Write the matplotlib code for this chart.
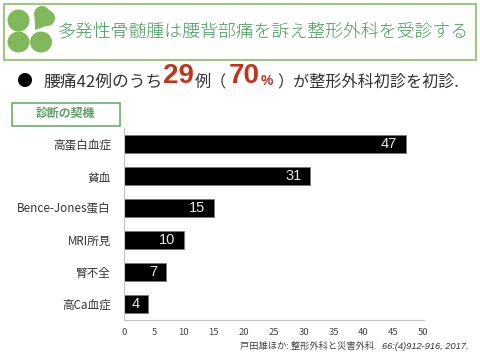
import matplotlib
matplotlib.use('Agg')
import matplotlib.pyplot as plt
from matplotlib.patches import Rectangle, Circle, Polygon, Ellipse

plt.rcParams['font.family'] = ['Noto Sans CJK JP', 'DejaVu Sans']

categories = ['高蛋白血症', '貧血', 'Bence-Jones蛋白', 'MRI所見', '腎不全', '高Ca血症']
counts = [47, 31, 15, 10, 7, 4]
xticks = [0, 5, 10, 15, 20, 25, 30, 35, 40, 45, 50]

GREEN = '#80b85a'
TITLE_GREEN = '#469a5c'
RED = '#c0341d'

fig = plt.figure(figsize=(4.8, 3.6), dpi=100)

# overlay in pixel coordinates for the slide decoration
bg = fig.add_axes([0, 0, 1, 1])
bg.set_xlim(0, 480)
bg.set_ylim(360, 0)
bg.axis('off')

bg.add_patch(Rectangle((4, 4), 472, 56, fc='white', ec='#a3c48a', lw=1.6))
bg.add_patch(Rectangle((11.5, 103), 108, 23, fc='white', ec='#62a662', lw=1.1))

# clover
bg.add_patch(Ellipse((18.5, 20.5), 22, 22, fc=GREEN, ec='none'))
bg.add_patch(Ellipse((18.5, 42), 22, 21, fc=GREEN, ec='none'))
bg.add_patch(Ellipse((41, 42), 22, 21, fc=GREEN, ec='none'))
bg.add_patch(Circle((42, 14), 8, fc=GREEN, ec='none'))
bg.add_patch(Circle((47, 18), 8, fc=GREEN, ec='none'))
bg.add_patch(Polygon([(34.5, 14), (35, 30), (52, 24)], fc=GREEN, ec='none'))

bg.text(263.5, 31.5, '多発性骨髄腫は腰背部痛を訴え整形外科を受診する', color=TITLE_GREEN,
        fontsize=12.9, ha='center', va='center', fontweight='light')

bg.add_patch(Circle((25, 80), 7, fc='black', ec='none'))
bg.text(43, 82, '腰痛42例のうち', color='#333333', fontsize=12.1, ha='left', va='center')
bg.text(163, 76, '29', color=RED, fontsize=20, ha='left', va='center', fontweight='bold', family='Liberation Sans')
bg.text(195, 82, '例（', color='#333333', fontsize=11.6, ha='left', va='center')
bg.text(229, 76, '70', color=RED, fontsize=20, ha='left', va='center', fontweight='bold', family='Liberation Sans')
bg.text(261, 81, '%', color=RED, fontsize=10, ha='left', va='center', fontweight='bold', family='Liberation Sans')
bg.text(277, 82, '）が整形外科初診を初診.', color='#333333', fontsize=11.6, ha='left', va='center')

bg.text(65.5, 113.5, '診断の契機', color='#5f9e63', fontsize=8.6, ha='center', va='center', fontweight='bold')

bg.text(240, 346.5, '戸田雄ほか: 整形外科と災害外科.', color='#444444', fontsize=6.7, ha='left', va='center')
bg.text(382, 346.5, '66:(4)912-916, 2017.', color='#333333', fontsize=6.7, ha='left', va='center',
        style='italic', family='Liberation Sans')

# bar chart
ax = fig.add_axes([124 / 480, 1 - 320 / 360, (423.5 - 124) / 480, (320 - 128) / 360])
y = range(len(categories))
ax.barh(y, counts, height=0.56, color='black', edgecolor='#777777', linewidth=0.6)
for i, v in zip(y, counts):
    ax.text(v - 1.4, i, str(v), color='#e8e8e8', fontsize=10.5, ha='right',
            va='center', family='Liberation Sans')
ax.set_xlim(0, 50)
ax.set_ylim(5.5, -0.5)
ax.set_xticks(xticks)
ax.set_yticks(list(y))
ax.set_yticklabels(categories)
ax.tick_params(axis='x', length=0, labelsize=6.8, labelcolor='#444444', pad=6)
ax.tick_params(axis='y', length=0, labelsize=8.4, labelcolor='#333333', pad=9.4)
for s in ['top', 'right']:
    ax.spines[s].set_visible(False)
for s in ['left', 'bottom']:
    ax.spines[s].set_color('#c4c4c4')
    ax.spines[s].set_linewidth(0.8)
    ax.spines[s].set_linestyle((0, (2, 0.5)))
ax.patch.set_alpha(0)

fig.savefig('out.png', dpi=100)
